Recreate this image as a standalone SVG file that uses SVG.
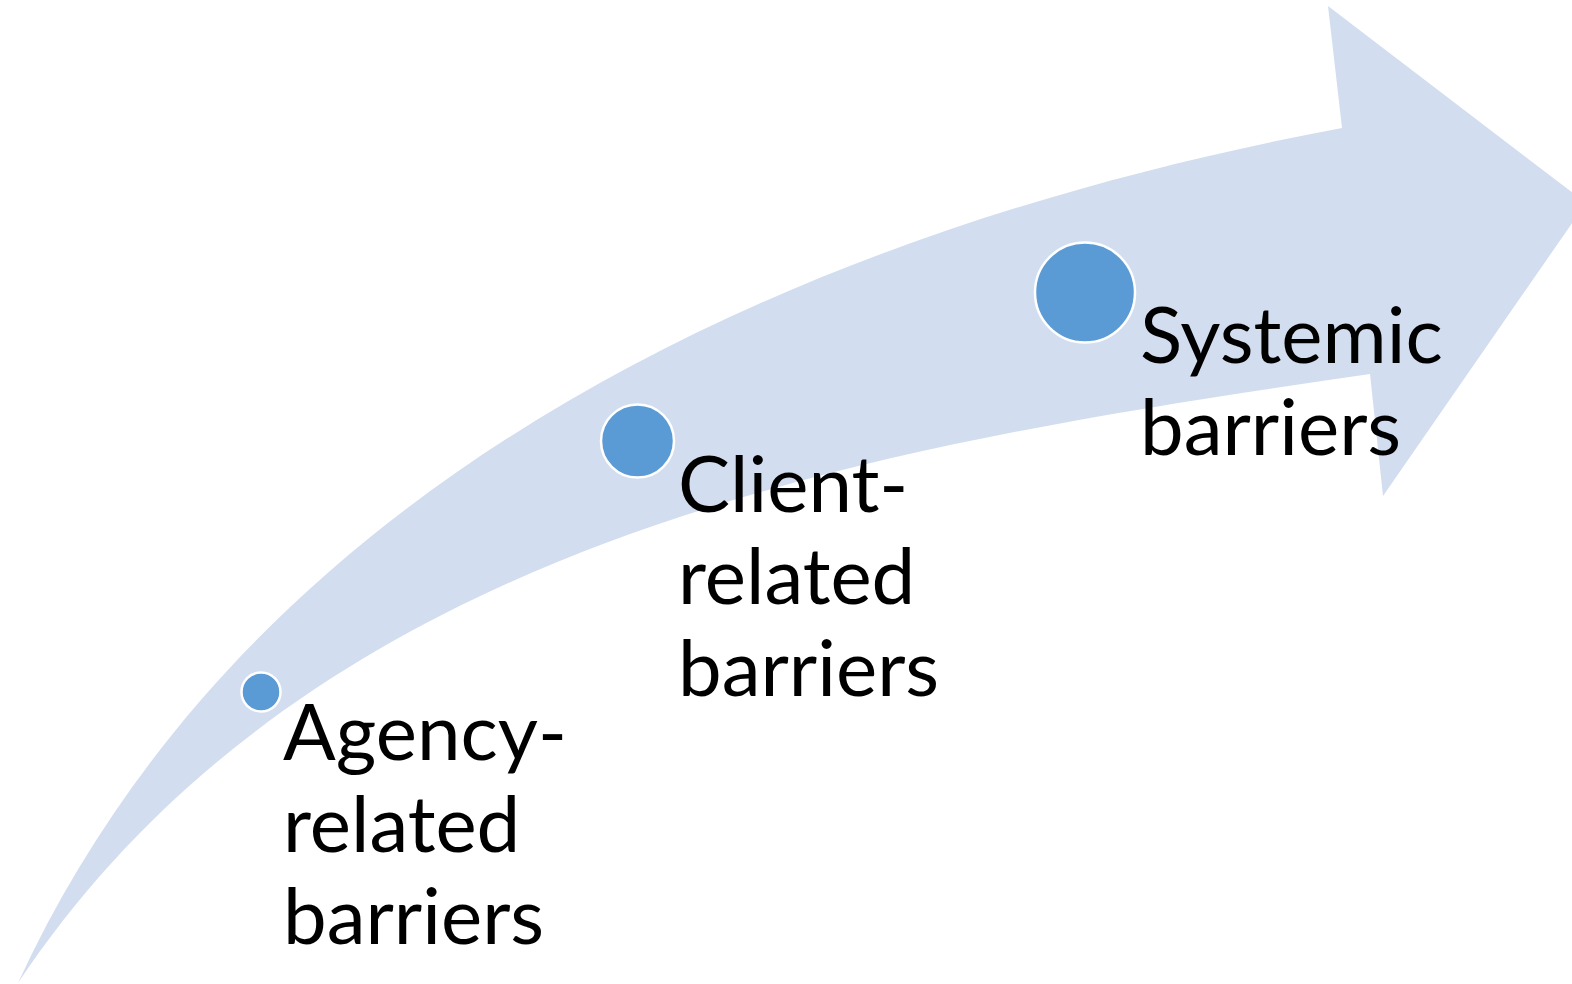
<svg xmlns="http://www.w3.org/2000/svg" width="1572" height="984" viewBox="0 0 1572 984">
<style>
.dot{fill:#5B9BD5;stroke:#FFFFFF;stroke-width:2.5}
.lbl{font-family:Lato,"Open Sans","Liberation Sans",sans-serif;font-size:78px;fill:#000000}
</style>
<rect width="1572" height="984" fill="#FFFFFF"/>
<g id="arrow">
<path fill="#D2DEEF" d="M18,983 C256,466 818,226 1342,128 L1328,6 L1586,203 L1383,496 L1370,374 C884,445 319,532 18,983 Z"/>
</g>
<g id="connectors"></g>
<g id="node-agency">
<circle class="dot" cx="261" cy="692" r="19.5"/>
<text class="lbl" x="283" y="760">Agency-</text>
<text class="lbl" x="283" y="852">related</text>
<text class="lbl" x="283" y="944">barriers</text>
</g>
<g id="node-client">
<circle class="dot" cx="637.5" cy="441" r="36.5"/>
<text class="lbl" x="678" y="512">Client-</text>
<text class="lbl" x="678" y="604">related</text>
<text class="lbl" x="678" y="696">barriers</text>
</g>
<g id="node-systemic">
<circle class="dot" cx="1085" cy="292.5" r="50"/>
<text class="lbl" x="1140" y="363">Systemic</text>
<text class="lbl" x="1140" y="455">barriers</text>
</g>
</svg>
